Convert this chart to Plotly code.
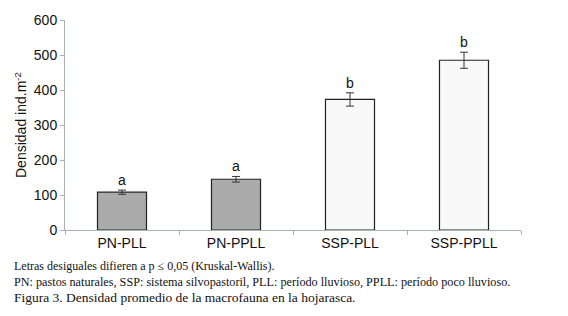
import plotly.graph_objects as go

categories = ["PN-PLL", "PN-PPLL", "SSP-PLL", "SSP-PPLL"]
densidad = [108, 145, 373, 485]
error = [6, 8, 19, 23]
letras = ["a", "a", "b", "b"]
colores = ["#ababab", "#ababab", "#f9f9f9", "#f9f9f9"]
y_ticks = [0, 100, 200, 300, 400, 500, 600]

fig = go.Figure()
fig.add_trace(go.Bar(
    x=categories, y=densidad,
    marker=dict(color=colores, line=dict(color="#222222", width=1.2)),
    width=0.43,
    error_y=dict(type="data", array=error, visible=True, color="#333333", thickness=1, width=4),
    showlegend=False,
))
for c, v, e, l in zip(categories, densidad, error, letras):
    fig.add_annotation(x=c, y=v + e, text=l, showarrow=False, yanchor="bottom", yshift=0,
                       font=dict(family="Liberation Sans, Arial", size=14, color="#111111"))

L, R, T, B = 65, 47, 20, 86
W, H = 568, 316
pw = W - L - R
ph = H - T - B

def px_x(px):
    return (px - L) / pw

def px_y(py):
    return (H - B - py) / ph

captions = [
    ("Letras desiguales difieren a p ≤ 0,05 (Kruskal-Wallis).", 12, 272),
    ("PN: pastos naturales, SSP: sistema silvopastoril, PLL: período lluvioso, PPLL: período poco lluvioso.", 12.2, 288),
    ("Figura 3. Densidad promedio de la macrofauna en la hojarasca.", 13.5, 304),
]
for txt, fs, base in captions:
    fig.add_annotation(xref="paper", yref="paper", x=px_x(12), y=px_y(base + 3), text=txt,
                       showarrow=False, xanchor="left", yanchor="bottom",
                       font=dict(family="Liberation Serif, Times New Roman", size=fs, color="#111111"))

fig.update_layout(
    width=W, height=H,
    margin=dict(l=L, r=R, t=T, b=B),
    paper_bgcolor="white", plot_bgcolor="white",
    font=dict(family="Liberation Sans, Arial", size=14, color="#111111"),
    bargap=0.57,
)
fig.update_xaxes(
    showline=True, linecolor="#a8b0bc", linewidth=1,
    ticks="outside", tickson="boundaries", ticklen=4, tickcolor="#a8b0bc",
    showgrid=False, tickfont=dict(size=14), range=[-0.5, 3.5],
)
fig.update_yaxes(
    range=[0, 600], tickvals=y_ticks, showline=True, linecolor="#a8b0bc", linewidth=1,
    ticks="outside", ticklen=4, tickcolor="#a8b0bc", showgrid=False, zeroline=False,
    tickfont=dict(size=14),
    title=dict(text="Densidad ind.m<sup>-2</sup>", font=dict(size=14), standoff=3),
)

fig.write_html("out.html", config={"displayModeBar": False},
               post_script="document.body.style.margin='0';document.body.style.padding='0';")
